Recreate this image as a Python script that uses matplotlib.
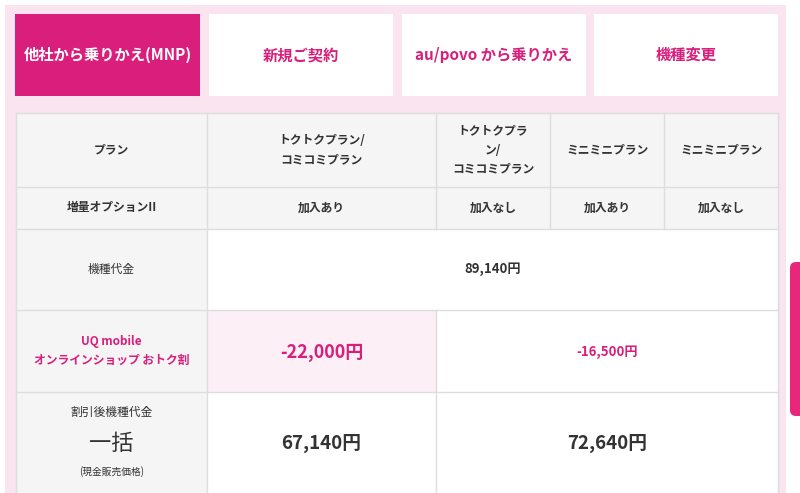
import matplotlib.pyplot as plt
from matplotlib.patches import Rectangle, FancyBboxPatch

plt.rcParams["font.family"] = "Noto Sans CJK JP"

tabs = ["他社から乗りかえ(MNP)", "新規ご契約", "au/povo から乗りかえ", "機種変更"]
plans = ["トクトクプラン/\nコミコミプラン", "トクトクプラ\nン/\nコミコミプラン", "ミニミニプラン", "ミニミニプラン"]
options = ["加入あり", "加入なし", "加入あり", "加入なし"]
device_price = "89,140円"
discounts = ["-22,000円", "-16,500円"]
after_prices = ["67,140円", "72,640円"]

PINK = "#d91e7b"
TXT = "#333333"
GREY = "#f5f5f5"
LINE = "#dddddd"

fig = plt.figure(figsize=(8, 4.93), dpi=100)
ax = fig.add_axes([0, 0, 1, 1])
ax.set_xlim(0, 800)
ax.set_ylim(493, 0)
ax.axis("off")

def box(x0, y0, x1, y1, fc, ec="none", lw=0):
    ax.add_patch(Rectangle((x0, y0), x1 - x0, y1 - y0, fc=fc, ec=ec, lw=lw))

def text(x, y, s, size=8.5, color=TXT, weight="bold", **kw):
    ax.text(x, y, s, fontsize=size, color=color, weight=weight,
            ha="center", va="center", linespacing=1.6, **kw)

# background panel
box(5, 5, 786, 493, "#f9e4ef")

# tabs
tab_x = [(15, 200), (209, 393), (402, 586), (594, 778)]
for i, (lab, (x0, x1)) in enumerate(zip(tabs, tab_x)):
    box(x0, 14, x1, 96, PINK if i == 0 else "white")
    text((x0 + x1) / 2, 55, lab, size=11, color="white" if i == 0 else PINK)

# table
cols = [16, 207, 436, 550, 664, 778]
rows = [113, 187, 229, 310, 392, 493]
box(cols[0], rows[0], cols[-1], rows[2], GREY)
box(cols[0], rows[2], cols[-1], rows[-1], "white")
box(cols[0], rows[2], cols[1], rows[-1], GREY)
box(cols[1], rows[3], cols[2], rows[4], "#fcf0f6")

def hline(y, x0, x1):
    ax.plot([x0, x1], [y, y], color=LINE, lw=1)

def vline(x, y0, y1):
    ax.plot([x, x], [y0, y1], color=LINE, lw=1)

for y in rows[:-1]:
    hline(y, cols[0], cols[-1])
vline(cols[0], rows[0], rows[-1])
vline(cols[-1], rows[0], rows[-1])
vline(cols[1], rows[0], rows[-1])
for x in cols[2:-1]:
    vline(x, rows[0], rows[2])
vline(cols[2], rows[3], rows[-1])

# header rows
text((cols[0] + cols[1]) / 2, 150, "プラン")
text((cols[0] + cols[1]) / 2, 208, "増量オプションII")
for i in range(4):
    cx = (cols[i + 1] + cols[i + 2]) / 2
    text(cx, 150, plans[i])
    text(cx, 208, options[i])

# body
text((cols[0] + cols[1]) / 2, 269, "機種代金", weight="normal")
text((cols[1] + cols[-1]) / 2, 269, device_price, size=9.5)

text((cols[0] + cols[1]) / 2, 351, "UQ mobile\nオンラインショップ おトク割", color=PINK)
text((cols[1] + cols[2]) / 2, 352, discounts[0], size=13, color=PINK)
text((cols[2] + cols[-1]) / 2, 352, discounts[1], size=9.5, color=PINK)

text((cols[0] + cols[1]) / 2, 412, "割引後機種代金", weight="normal")
text((cols[0] + cols[1]) / 2, 443, "一括", size=16, weight="normal")
text((cols[0] + cols[1]) / 2, 472, "(現金販売価格)", size=7, weight="normal")
text((cols[1] + cols[2]) / 2, 443, after_prices[0], size=13.5)
text((cols[2] + cols[-1]) / 2, 443, after_prices[1], size=13.5)

# floating side tab
ax.add_patch(FancyBboxPatch((790, 262), 20, 154, boxstyle="round,pad=0,rounding_size=6",
                            fc="#e8267a", ec="none"))

fig.savefig("out.png", dpi=100)
